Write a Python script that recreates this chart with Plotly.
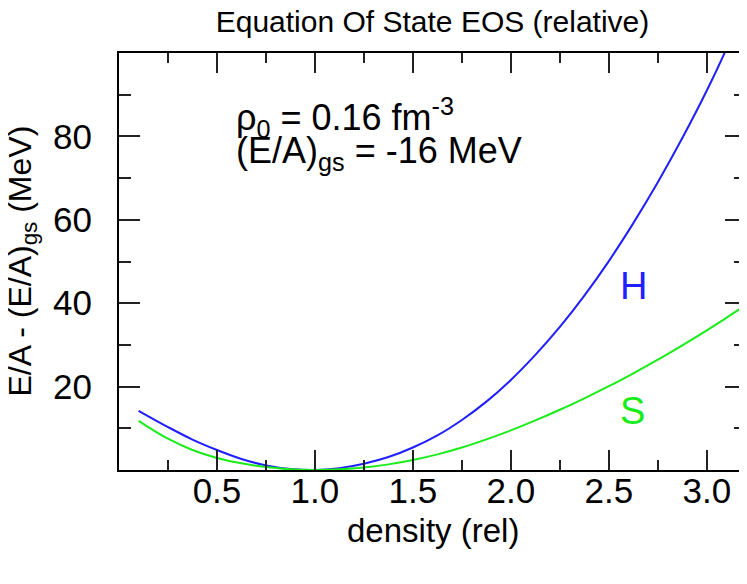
import plotly.graph_objects as go

# density relative to rho_0
density = [0.1, 0.25, 0.375, 0.5, 0.625, 0.75, 0.875, 1.0, 1.125, 1.25, 1.375, 1.5, 1.625,
           1.75, 1.875, 2.0, 2.125, 2.25, 2.375, 2.5, 2.625, 2.75, 2.875, 3.0, 3.1, 3.2]
# E/A - (E/A)_gs in MeV
hard = [14.2, 10.3, 7.3, 4.8, 2.65, 1.1, 0.25, 0.0, 0.45, 1.5, 3.1, 5.4, 8.3,
        12.0, 16.4, 21.6, 27.6, 34.3, 41.8, 50.1, 59.2, 69.0, 79.6, 91.0, 101.0, 112.3]
soft = [11.8, 7.5, 4.8, 2.9, 1.6, 0.7, 0.15, 0.0, 0.15, 0.6, 1.35, 2.4, 3.75,
        5.4, 7.35, 9.5, 11.9, 14.45, 17.2, 20.1, 23.2, 26.45, 29.9, 33.5, 36.5, 39.6]

x_ticks = [0.5, 1.0, 1.5, 2.0, 2.5, 3.0]
x_labels = ["0.5", "1.0", "1.5", "2.0", "2.5", "3.0"]
x_minor = [0.25, 0.75, 1.25, 1.75, 2.25, 2.75]
y_ticks = [20, 40, 60, 80]
y_minor = [10, 30, 50, 70, 90]

FONT = "Liberation Sans, Arial, sans-serif"
BLUE = "#1f1fff"
GREEN = "#19ec19"

fig = go.Figure()
fig.add_trace(go.Scatter(x=density, y=hard, mode="lines", line=dict(color=BLUE, width=2, shape="spline"),
                         name="H", showlegend=False))
fig.add_trace(go.Scatter(x=density, y=soft, mode="lines", line=dict(color=GREEN, width=2, shape="spline"),
                         name="S", showlegend=False))

axis_common = dict(showgrid=False, zeroline=False, showline=True, linecolor="black", linewidth=2,
                   mirror="ticks", ticks="inside", tickwidth=2, tickcolor="#222", automargin=False,
                   tickfont=dict(family=FONT, size=35, color="black"))

fig.update_xaxes(range=[0, 3.2], tickmode="array", tickvals=x_ticks, ticktext=x_labels,
                 ticklen=20, ticklabelstandoff=-11,
                 minor=dict(tickmode="array", tickvals=x_minor, ticks="inside", ticklen=10, tickwidth=2, tickcolor="#222"),
                 **axis_common)
fig.update_yaxes(range=[0, 100], tickmode="array", tickvals=y_ticks, ticklen=21, ticklabelstandoff=18,
                 minor=dict(tickmode="array", tickvals=y_minor, ticks="inside", ticklen=12, tickwidth=2, tickcolor="#222"),
                 **axis_common)

# axis titles
fig.add_annotation(x=0.5, y=-0.145, xref="paper", yref="paper", showarrow=False, xanchor="center", yanchor="middle",
                   text="density (rel)", font=dict(family=FONT, size=33, color="black"))
fig.add_annotation(x=-0.1547, y=0.5, xref="paper", yref="paper", showarrow=False, textangle=-90,
                   xanchor="center", yanchor="middle",
                   text="E/A - (E/A)<sub>gs</sub> (MeV)", font=dict(family=FONT, size=32, color="black"))

# text inside the frame
fig.add_annotation(x=0.585, y=84.6, xref="x", yref="y", xanchor="left", showarrow=False,
                   text="ρ<sub>0</sub> = 0.16 fm<sup>-3</sup>", font=dict(family=FONT, size=36, color="black"))
fig.add_annotation(x=0.585, y=76.0, xref="x", yref="y", xanchor="left", showarrow=False,
                   text="(E/A)<sub>gs</sub> = -16 MeV", font=dict(family=FONT, size=36, color="black"))
fig.add_annotation(x=2.624, y=44.2, xref="x", yref="y", showarrow=False,
                   text="H", font=dict(family=FONT, size=38, color=BLUE))
fig.add_annotation(x=2.62, y=14.1, xref="x", yref="y", showarrow=False,
                   text="S", font=dict(family=FONT, size=38, color=GREEN))

fig.update_layout(
    width=747, height=584,
    margin=dict(l=111, r=9, t=45, b=122),
    paper_bgcolor="white", plot_bgcolor="white",
    title=dict(text="Equation Of State EOS (relative)", xref="paper", x=0.5, xanchor="center",
               yref="container", y=0.9777, yanchor="middle",
               font=dict(family=FONT, size=30, color="black")),
)

fig.write_html("out.html")
